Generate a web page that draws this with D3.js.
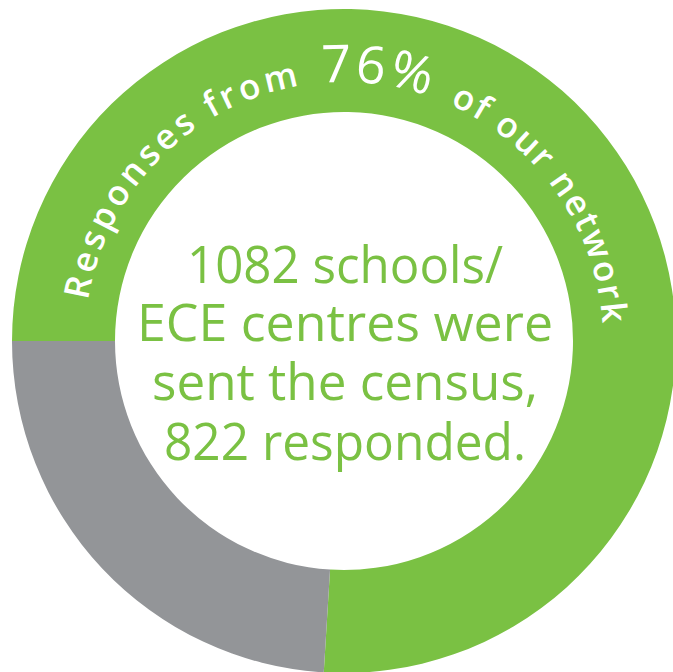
<!DOCTYPE html>
<html>
<head>
<meta charset="utf-8">
<script src="https://cdn.jsdelivr.net/npm/d3@7/dist/d3.min.js"></script>
<style>
  html, body { margin: 0; padding: 0; background: #fff; }
  svg { display: block; }
</style>
</head>
<body>
<svg id="chart" width="673" height="672"></svg>
<script>
// ---- data ----
const categories = ["Responded", "Did not respond"];
const values = [822, 260];
const colors = ["#7ac143", "#939598"];
const centerLines = ["1082 schools/", "ECE centres were", "sent the census,", "822 responded."];
const ringSegments = ["Responses from", "76%", "of our network"];

// ---- layout ----
const W = 673, H = 672;
const cx = 344, cy = 341;
const rOuter = 332, rInner = 229;
const svg = d3.select("#chart");
svg.append("rect").attr("width", W).attr("height", H).attr("fill", "#fff");
const g = svg.append("g").attr("transform", `translate(${cx},${cy})`);

const pie = d3.pie().sort(null).value(d => d)
  .startAngle(-Math.PI / 2).endAngle(3 * Math.PI / 2);
const arc = d3.arc().innerRadius(rInner).outerRadius(rOuter);

g.selectAll("path.slice").data(pie(values)).join("path")
  .attr("class", "slice")
  .attr("d", arc)
  .attr("fill", (d, i) => colors[i]);

// ---- center text ----
const lineSpec = [
  { y: 283, w: 316 },
  { y: 341, w: 416 },
  { y: 400, w: 386 },
  { y: 460, w: 362 }
];
svg.selectAll("text.center").data(centerLines).join("text")
  .attr("class", "center")
  .attr("x", 345)
  .attr("y", (d, i) => lineSpec[i].y)
  .attr("text-anchor", "middle")
  .attr("font-family", "'Open Sans', 'Liberation Sans', sans-serif")
  .attr("font-size", 52)
  .attr("font-weight", 500)
  .attr("fill", colors[0])
  .attr("textLength", (d, i) => lineSpec[i].w)
  .attr("lengthAdjust", "spacingAndGlyphs")
  .text(d => d);

// ---- curved text ----
const rb = 259;
const a0 = -100 * Math.PI / 180, a1 = 100 * Math.PI / 180;
const pt = a => [rb * Math.sin(a), -rb * Math.cos(a)];
const p0 = pt(a0), p1 = pt(a1);
g.append("defs").append("path")
  .attr("id", "ringPath")
  .attr("d", `M${p0[0]},${p0[1]} A${rb},${rb} 0 1 1 ${p1[0]},${p1[1]}`);

const segSpec = [
  { from: -81, to: -10, size: 35, weight: 600 },
  { from: -5, to: 19, size: 52, weight: 500 },
  { from: 24, to: 86, size: 35, weight: 600 }
];
ringSegments.forEach((s, i) => {
  const sp = segSpec[i];
  const t = g.append("text")
    .attr("font-family", "'Open Sans', 'Liberation Sans', sans-serif")
    .attr("font-size", sp.size)
    .attr("font-weight", sp.weight)
    .attr("fill", "#fff");
  t.append("textPath")
    .attr("href", "#ringPath")
    .attr("startOffset", (sp.from * Math.PI / 180 - a0) * rb)
    .text(s);
  const natural = t.node().getComputedTextLength();
  const target = (sp.to - sp.from) * Math.PI / 180 * rb;
  const ls = (target - natural) / (s.length - 1);
  t.attr("letter-spacing", ls);
});
</script>
</body>
</html>
